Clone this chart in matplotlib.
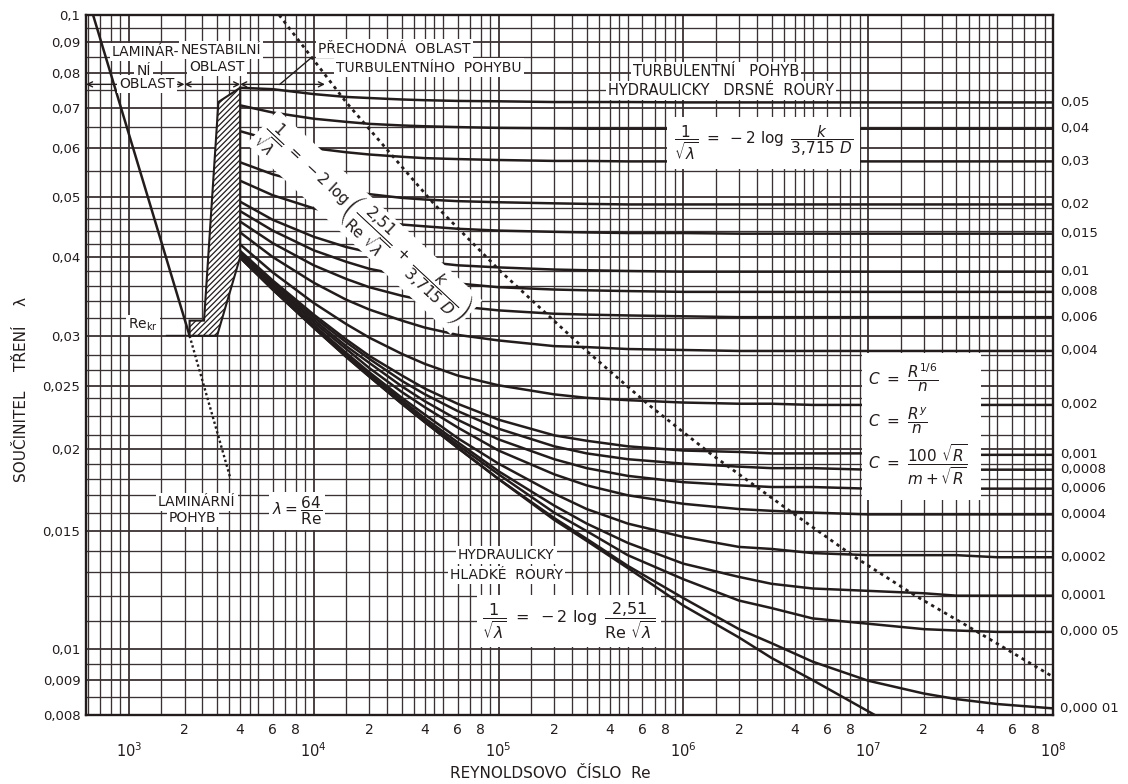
import numpy as np
import matplotlib
matplotlib.use("Agg")
import matplotlib.pyplot as plt
from matplotlib.patches import Polygon, Rectangle
from matplotlib.transforms import blended_transform_factory

plt.rcParams['font.family'] = ['DejaVu Sans']
plt.rcParams['mathtext.fontset'] = 'dejavusans'
plt.rcParams['hatch.linewidth'] = 0.9

INK = '#231c1c'
GRID = '#3a3232'

# ---------------- values ----------------
re_pts = [4e3, 6e3, 1e4, 1.5e4, 2e4, 3e4, 4e4, 6e4, 1e5, 2e5, 3e5, 5e5,
          1e6, 2e6, 3e6, 5e6, 1e7, 2e7, 3e7, 5e7, 1e8]

rough_labels = ["0,05", "0,04", "0,03", "0,02", "0,015", "0,01", "0,008", "0,006",
                "0,004", "0,002", "0,001", "0,0008", "0,0006", "0,0004", "0,0002",
                "0,0001", "0,000 05", "0,000 01"]

lam_k0_05 = [0.0755, 0.0751, 0.0737, 0.0729, 0.0726, 0.0722, 0.0720, 0.0718, 0.0717, 0.0715, 0.0715,
             0.0715, 0.0714, 0.0714, 0.0714, 0.0714, 0.0714, 0.0714, 0.0714, 0.0714, 0.0714]
lam_k0_04 = [0.0706, 0.0687, 0.0671, 0.0663, 0.0658, 0.0654, 0.0652, 0.0650, 0.0648, 0.0647, 0.0646,
             0.0646, 0.0646, 0.0646, 0.0646, 0.0646, 0.0646, 0.0646, 0.0646, 0.0646, 0.0646]
lam_k0_03 = [0.0640, 0.0618, 0.0600, 0.0591, 0.0586, 0.0581, 0.0578, 0.0576, 0.0574, 0.0572, 0.0572,
             0.0571, 0.0571, 0.0571, 0.0571, 0.0571, 0.0571, 0.0571, 0.0571, 0.0571, 0.0571]
lam_k0_02 = [0.0569, 0.0544, 0.0522, 0.0511, 0.0505, 0.0498, 0.0495, 0.0492, 0.0490, 0.0488, 0.0487,
             0.0486, 0.0486, 0.0486, 0.0486, 0.0486, 0.0486, 0.0486, 0.0486, 0.0486, 0.0486]
lam_k0_015 = [0.0531, 0.0503, 0.0479, 0.0466, 0.0459, 0.0451, 0.0448, 0.0444, 0.0441, 0.0439, 0.0438,
              0.0437, 0.0437, 0.0436, 0.0436, 0.0436, 0.0436, 0.0436, 0.0436, 0.0436, 0.0436]
lam_k0_01 = [0.0491, 0.0459, 0.0431, 0.0415, 0.0407, 0.0398, 0.0393, 0.0388, 0.0385, 0.0382, 0.0381,
             0.0380, 0.0379, 0.0379, 0.0379, 0.0379, 0.0379, 0.0379, 0.0379, 0.0379, 0.0379]
lam_k0_008 = [0.0474, 0.0441, 0.0410, 0.0393, 0.0383, 0.0374, 0.0368, 0.0363, 0.0358, 0.0355, 0.0354,
              0.0353, 0.0352, 0.0352, 0.0352, 0.0352, 0.0352, 0.0352, 0.0352, 0.0352, 0.0352]
lam_k0_006 = [0.0456, 0.0421, 0.0388, 0.0369, 0.0358, 0.0347, 0.0341, 0.0334, 0.0329, 0.0325, 0.0324,
              0.0323, 0.0322, 0.0321, 0.0321, 0.0321, 0.0321, 0.0321, 0.0321, 0.0321, 0.0321]
lam_k0_004 = [0.0438, 0.0400, 0.0364, 0.0342, 0.0330, 0.0317, 0.0309, 0.0301, 0.0295, 0.0289, 0.0288,
              0.0286, 0.0285, 0.0284, 0.0284, 0.0284, 0.0284, 0.0284, 0.0284, 0.0284, 0.0284]
lam_k0_002 = [0.0419, 0.0378, 0.0338, 0.0313, 0.0298, 0.0281, 0.0271, 0.0260, 0.0251, 0.0243, 0.0240,
              0.0238, 0.0236, 0.0235, 0.0235, 0.0234, 0.0234, 0.0234, 0.0234, 0.0234, 0.0234]
lam_k0_001 = [0.0409, 0.0367, 0.0324, 0.0296, 0.0279, 0.0260, 0.0248, 0.0235, 0.0222, 0.0210, 0.0206,
              0.0202, 0.0199, 0.0198, 0.0197, 0.0197, 0.0197, 0.0196, 0.0196, 0.0196, 0.0196]
lam_k0_0008 = [0.0407, 0.0365, 0.0321, 0.0293, 0.0276, 0.0255, 0.0243, 0.0229, 0.0215, 0.0202, 0.0197,
               0.0193, 0.0190, 0.0188, 0.0187, 0.0187, 0.0186, 0.0186, 0.0186, 0.0186, 0.0186]
lam_k0_0006 = [0.0405, 0.0362, 0.0318, 0.0289, 0.0272, 0.0250, 0.0237, 0.0222, 0.0207, 0.0193, 0.0187,
               0.0182, 0.0178, 0.0176, 0.0175, 0.0175, 0.0174, 0.0174, 0.0174, 0.0174, 0.0174]
lam_k0_0004 = [0.0403, 0.0360, 0.0315, 0.0286, 0.0267, 0.0245, 0.0232, 0.0216, 0.0199, 0.0183, 0.0176,
               0.0170, 0.0165, 0.0162, 0.0161, 0.0160, 0.0159, 0.0159, 0.0159, 0.0159, 0.0159]
lam_k0_0002 = [0.0401, 0.0357, 0.0312, 0.0282, 0.0263, 0.0240, 0.0226, 0.0208, 0.0190, 0.0171, 0.0162,
               0.0154, 0.0147, 0.0142, 0.0141, 0.0139, 0.0138, 0.0138, 0.0138, 0.0137, 0.0137]
lam_k0_0001 = [0.0400, 0.0356, 0.0310, 0.0280, 0.0261, 0.0238, 0.0223, 0.0205, 0.0185, 0.0164, 0.0154,
               0.0144, 0.0134, 0.0128, 0.0125, 0.0123, 0.0122, 0.0121, 0.0120, 0.0120, 0.0120]
lam_k0_00005 = [0.0400, 0.0356, 0.0310, 0.0279, 0.0260, 0.0236, 0.0221, 0.0203, 0.0183, 0.0160, 0.0150,
                0.0138, 0.0127, 0.0118, 0.0115, 0.0111, 0.0109, 0.0107, 0.01065, 0.0106, 0.0106]
lam_k0_00001 = [0.0399, 0.0355, 0.0309, 0.0278, 0.0259, 0.0235, 0.0220, 0.0201, 0.0180, 0.0157, 0.0146,
                0.0133, 0.0119, 0.0107, 0.0102, 0.00958, 0.00898, 0.00860, 0.00844, 0.00830, 0.00818]
lam_smooth = [0.0399, 0.0355, 0.0309, 0.0278, 0.0259, 0.0235, 0.0220, 0.0201, 0.0180, 0.0156, 0.0145,
              0.0132, 0.0116, 0.0104, 0.0097, 0.0090, 0.0081, 0.0073, 0.0070, 0.0064, 0.0059]

rough_curves = [lam_k0_05, lam_k0_04, lam_k0_03, lam_k0_02, lam_k0_015, lam_k0_01,
                lam_k0_008, lam_k0_006, lam_k0_004, lam_k0_002, lam_k0_001, lam_k0_0008,
                lam_k0_0006, lam_k0_0004, lam_k0_0002, lam_k0_0001, lam_k0_00005, lam_k0_00001]

# boundary of the hydraulically rough zone (dotted)
bound_re = [6500, 15000, 45000, 1.03e5, 3.0e5, 6.5e5, 1.43e6, 4.0e6, 8.5e6, 1.8e7, 3.9e7, 1.0e8]
bound_lam = [0.1, 0.0714, 0.0486, 0.0379, 0.0284, 0.0234, 0.0196, 0.0159, 0.0137, 0.0120, 0.0106, 0.0091]

# laminar line lambda = 64/Re and its dotted continuation
lam_re = [640, 2130]
lam_val = [0.100, 0.0300]
lam_ext_re = [2130, 3550]
lam_ext_val = [0.0300, 0.0180]

# unstable (hatched) region outline
hatch_re = [2130, 2130, 2550, 3050, 4000, 4000, 3000]
hatch_lam = [0.0300, 0.0317, 0.0317, 0.0715, 0.0755, 0.0400, 0.0300]

# axes ticks
ytick_vals = [0.1, 0.09, 0.08, 0.07, 0.06, 0.05, 0.04, 0.03, 0.025, 0.02, 0.015, 0.01, 0.009, 0.008]
ytick_labels = ["0,1", "0,09", "0,08", "0,07", "0,06", "0,05", "0,04", "0,03", "0,025",
                "0,02", "0,015", "0,01", "0,009", "0,008"]
xmajor_vals = [1e3, 1e4, 1e5, 1e6, 1e7, 1e8]
xmajor_labels = [r"$10^3$", r"$10^4$", r"$10^5$", r"$10^6$", r"$10^7$", r"$10^8$"]
xminor_mult = [2, 4, 6, 8]
xminor_labels = ["2", "4", "6", "8"]

# grid of the chart paper
x_grid_decades = [1e2, 1e3, 1e4, 1e5, 1e6, 1e7]
x_grid_mult = [1, 1.5, 2, 2.5, 3, 3.5, 4, 4.5, 5, 6, 7, 8, 9]
y_grid = [0.008, 0.0085, 0.009, 0.0095, 0.010, 0.011, 0.012, 0.013, 0.014, 0.015, 0.016,
          0.017, 0.018, 0.019, 0.020, 0.021, 0.0225, 0.024, 0.025, 0.0265, 0.028, 0.030,
          0.032, 0.034, 0.036, 0.038, 0.040, 0.042, 0.044, 0.046, 0.048, 0.050, 0.055,
          0.060, 0.065, 0.070, 0.075, 0.080, 0.085, 0.090, 0.095, 0.100]

# ---------------- scale (slightly stretched log, like the drawn paper) ----------------
A_, B_ = 1.0, 0.0726


def fwd(y):
    y = np.asarray(y, dtype=float)
    L = np.log10(0.1 / np.clip(y, 1e-9, None))
    return -(A_ * L + B_ * L * L)


def inv(v):
    v = np.asarray(v, dtype=float)
    L = (-A_ + np.sqrt(np.clip(A_ * A_ - 4 * B_ * v, 1e-12, None))) / (2 * B_)
    return 0.1 * 10 ** (-L)


fig = plt.figure(figsize=(11.28, 7.84), dpi=100)
fig.patch.set_facecolor('white')
ax = fig.add_axes([86 / 1128, 1 - 715 / 784, 967 / 1128, 700 / 784])
ax.set_xscale('log')
ax.set_yscale('function', functions=(fwd, inv))
XMIN, XMAX = 586, 1e8
ax.set_xlim(XMIN, XMAX)
ax.set_ylim(0.008, 0.1)

for s in ax.spines.values():
    s.set_color(INK)
    s.set_linewidth(1.7)

# grid
xg = [m * d for d in x_grid_decades for m in x_grid_mult if XMIN < m * d < XMAX]
for xv in xg:
    ax.axvline(xv, color=GRID, lw=1.3 if xv in xmajor_vals else 0.95, zorder=1)
for yv in y_grid:
    ax.axhline(yv, color=GRID, lw=1.3 if yv in ytick_vals else 0.95, zorder=1)

# curves
for lam in rough_curves:
    ax.plot(re_pts, lam, color=INK, lw=1.8, zorder=3, solid_joinstyle='round')
ax.plot(re_pts, lam_smooth, color=INK, lw=1.8, zorder=3, solid_joinstyle='round')

# laminar
ax.plot(lam_re, lam_val, color=INK, lw=1.8, zorder=3)
ax.plot(lam_ext_re, lam_ext_val, color=INK, lw=1.7, ls=(0, (1, 1.1)), zorder=3)

# rough-zone boundary
ax.plot(bound_re, bound_lam, color=INK, lw=2.0, ls=(0, (1.2, 1.5)), zorder=4)

# hatched unstable region
poly = Polygon(list(zip(hatch_re, hatch_lam)), closed=True, facecolor='white',
               edgecolor=INK, hatch='//////', lw=1.5, zorder=4)
ax.add_patch(poly)

# right-hand roughness labels
btr = blended_transform_factory(ax.transAxes, ax.transData)
for lab, lam in zip(rough_labels, rough_curves):
    ax.text(1.007, lam[-1], lab, transform=btr, ha='left', va='center',
            fontsize=9.5, color=INK, clip_on=False)

# ticks
ax.set_yticks(ytick_vals)
ax.set_yticklabels(ytick_labels)
ax.yaxis.set_minor_locator(matplotlib.ticker.NullLocator())
ax.set_xticks(xmajor_vals)
ax.set_xticklabels(xmajor_labels)
minor_vals = [m * d for d in xmajor_vals[:-1] for m in xminor_mult]
ax.set_xticks(minor_vals, minor=True)
ax.set_xticklabels(xminor_labels * (len(xmajor_vals) - 1), minor=True)
ax.tick_params(axis='y', length=0, pad=4, labelsize=9.5, labelcolor=INK)
ax.tick_params(axis='x', which='major', length=0, pad=19, labelsize=10.5, labelcolor=INK)
ax.tick_params(axis='x', which='minor', length=0, pad=6, labelsize=10, labelcolor=INK)

fig.text(550 / 1128, 1 - 773 / 784, "REYNOLDSOVO  ČÍSLO  Re", ha='center', va='center',
         fontsize=11, color=INK)
fig.text(22 / 1128, 1 - 390 / 784, "SOUČINITEL    TŘENÍ    λ", ha='center', va='center',
         rotation=90, fontsize=11, color=INK)

WB = dict(facecolor='white', edgecolor='none', pad=1.5)
TXT = dict(color=INK, fontsize=10, zorder=6)
TXT2 = dict(color=INK, fontsize=10.5, zorder=6)

# region labels at the top
ax.text(1230, 0.0866, "LAMINÁR-", ha='center', va='center', bbox=WB, **TXT)
ax.text(1200, 0.0806, "NÍ", ha='center', va='center', bbox=WB, **TXT)
ax.text(1250, 0.0765, "OBLAST", ha='center', va='center', bbox=WB, **TXT)
ax.text(3150, 0.0872, "NESTABILNÍ", ha='center', va='center', bbox=WB, **TXT)
ax.text(2990, 0.0818, "OBLAST", ha='center', va='center', bbox=WB, **TXT)
ax.text(1.06e4, 0.0878, "PŘECHODNÁ  OBLAST", ha='left', va='center', bbox=WB, **TXT)
ax.text(1.32e4, 0.0816, "TURBULENTNÍHO  POHYBU", ha='left', va='center', bbox=WB, **TXT)
ax.plot([9600, 6550], [0.0845, 0.0765], color=INK, lw=1.0, zorder=5)

ARW = dict(arrowstyle='<->', color=INK, lw=1.0, shrinkA=0, shrinkB=0, mutation_scale=9)
ax.annotate('', xy=(2000, 0.0765), xytext=(XMIN, 0.0765), arrowprops=ARW, zorder=5)
ax.annotate('', xy=(4000, 0.0765), xytext=(2000, 0.0765), arrowprops=ARW, zorder=5)
ax.annotate('', xy=(1.15e4, 0.0765), xytext=(4000, 0.0765), arrowprops=ARW, zorder=5)

ax.text(1.5e6, 0.0803, "TURBULENTNÍ   POHYB", ha='center', va='center', bbox=WB, **TXT2)
ax.text(1.6e6, 0.0748, "HYDRAULICKY   DRSNÉ  ROURY", ha='center', va='center', bbox=WB, **TXT2)

ax.text(2.7e6, 0.0612, r"$\dfrac{1}{\sqrt{\lambda}}\ =\ -2\ \log\ \dfrac{k}{3{,}715\ D}$",
        ha='center', va='center', fontsize=11, color=INK, zorder=6,
        bbox=dict(facecolor='white', edgecolor='none', pad=5))

ax.text(1.88e4, 0.0455,
        r"$\dfrac{1}{\sqrt{\lambda}}\ =\ -2\ \log\left(\dfrac{2{,}51}{\mathrm{Re}\ \sqrt{\lambda}}\ +\ \dfrac{k}{3{,}715\ D}\right)$",
        ha='center', va='center', rotation=-43, rotation_mode='anchor', fontsize=11,
        color=INK, zorder=6, bbox=dict(facecolor='white', edgecolor='none', pad=2))

# laminar labels
ax.text(1190, 0.0312, r"Re$_{\mathrm{kr}}$", ha='center', va='center', bbox=WB, **TXT)
ax.plot([1580, 2100], [0.0301, 0.0301], color=INK, lw=1.0, zorder=5)
ax.text(2330, 0.0166, "LAMINÁRNÍ", ha='center', va='center', bbox=WB, **TXT)
ax.text(2220, 0.0157, "POHYB", ha='center', va='center', bbox=WB, **TXT)
ax.text(8100, 0.0161, r"$\lambda = \dfrac{64}{\mathrm{Re}}$", ha='center', va='center',
        fontsize=11, color=INK, zorder=6, bbox=dict(facecolor='white', edgecolor='none', pad=2))

# smooth pipe labels
ax.text(1.1e5, 0.0138, "HYDRAULICKY", ha='center', va='center', bbox=WB, **TXT)
ax.text(1.1e5, 0.0129, "HLADKÉ  ROURY", ha='center', va='center', bbox=WB, **TXT)
ax.text(2.4e5, 0.0110, r"$\dfrac{1}{\sqrt{\lambda}}\ =\ -2\ \log\ \dfrac{2{,}51}{\mathrm{Re}\ \sqrt{\lambda}}$",
        ha='center', va='center', fontsize=11.5, color=INK, zorder=6,
        bbox=dict(facecolor='white', edgecolor='none', pad=4))

# Chezy / Manning box
ax.add_patch(Rectangle((9.3e6, 0.0167), 4.1e7 - 9.3e6, 0.0282 - 0.0167, facecolor='white',
                       edgecolor='none', zorder=5))
ax.text(1.0e7, 0.0258, r"$C\ =\ \dfrac{R^{1/6}}{n}$", ha='left', va='center', fontsize=11,
        color=INK, zorder=6)
ax.text(1.0e7, 0.0221, r"$C\ =\ \dfrac{R^{y}}{n}$", ha='left', va='center', fontsize=11,
        color=INK, zorder=6)
ax.text(1.0e7, 0.0189, r"$C\ =\ \dfrac{100\ \sqrt{R}}{m+\sqrt{R}}$", ha='left', va='center',
        fontsize=11, color=INK, zorder=6)

fig.savefig("out.png", dpi=100, facecolor='white')
